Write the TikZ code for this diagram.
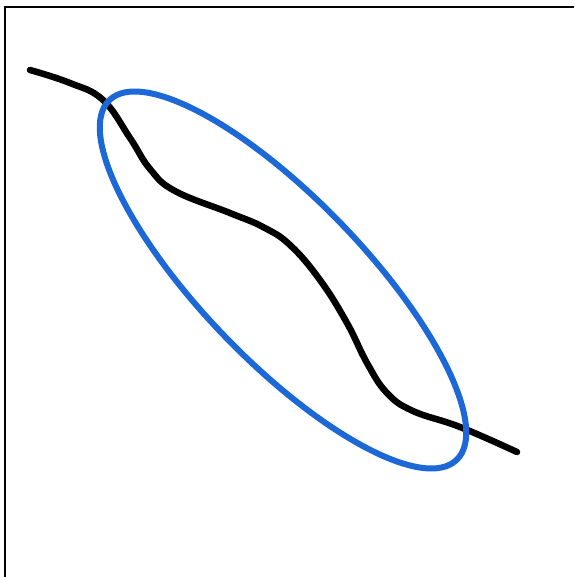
\documentclass[tikz,border=0pt]{standalone}
\definecolor{ringblue}{RGB}{28,104,214}
\begin{document}
\begin{tikzpicture}[x=1pt,y=-1pt,
  frame/.style={line width=2.6pt,black},
  wave/.style={line width=6.5pt,black,line cap=round,line join=round},
  ring/.style={line width=6pt,ringblue}]
\useasboundingbox (0,0) rectangle (574,577);
\fill[white] (0,0) rectangle (574,577);
\draw[frame] (5,577) -- (5,7) -- (574,7);
\draw[wave] plot[smooth,tension=0.7] coordinates {(30,70) (70,83) (103,100) (130,138) (150,169) (175,191) (230,213) (263,227) (290,245) (320,280) (347,323) (367,363) (387,393) (413,411) (460,427) (517,452)};
\begin{scope}[shift={(283,280)},rotate=-46]
\draw[ring] (0,0) ellipse [x radius=250pt, y radius=81pt];
\end{scope}
\end{tikzpicture}
\end{document}
